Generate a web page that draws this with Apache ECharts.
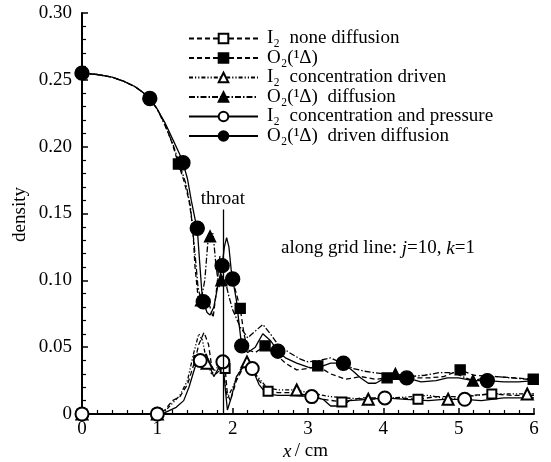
<!DOCTYPE html>
<html><head><meta charset="utf-8">
<script src="https://cdn.jsdelivr.net/npm/echarts@6/dist/echarts.min.js"></script>
<style>html,body{margin:0;padding:0;background:#fff}#c{width:551px;height:462px}</style>
</head><body><div id="c"></div>
<script>
// ---- data (x in cm, density) ----
const xTicks = [0,1,2,3,4,5,6];
const yTicks = [0,0.05,0.10,0.15,0.20,0.25,0.30];
const seriesNames = ['I\u2082  none diffusion','O\u2082(\u00b9\u0394)','I\u2082  concentration driven','O\u2082(\u00b9\u0394)  diffusion','I\u2082  concentration and pressure','O\u2082(\u00b9\u0394)  driven diffusion'];

const i2None = [[0,0],[0.5,0],[1.0,0],[1.1,0.003],[1.2,0.010],[1.3,0.013],[1.4,0.022],[1.5,0.040],[1.55,0.052],[1.62,0.061],[1.68,0.052],[1.72,0.036],[1.78,0.030],[1.85,0.034],[1.9,0.034],[1.93,0.015],[1.97,0.010],[2.05,0.025],[2.15,0.036],[2.25,0.035],[2.35,0.025],[2.47,0.017],[2.6,0.016],[2.8,0.016],[3.0,0.014],[3.2,0.011],[3.45,0.009],[3.7,0.012],[4.0,0.012],[4.2,0.012],[4.46,0.011],[4.7,0.013],[5.0,0.013],[5.2,0.014],[5.44,0.015],[5.7,0.014],[6.0,0.014]];
const o2None = [[0,0.255],[0.2,0.254],[0.4,0.252],[0.55,0.249],[0.7,0.245],[0.8,0.241],[0.9,0.236],[1.0,0.228],[1.1,0.217],[1.2,0.202],[1.28,0.187],[1.35,0.175],[1.42,0.160],[1.47,0.140],[1.5,0.110],[1.54,0.088],[1.6,0.080],[1.66,0.085],[1.7,0.080],[1.74,0.072],[1.78,0.090],[1.83,0.118],[1.88,0.115],[1.94,0.105],[2.0,0.099],[2.05,0.090],[2.10,0.079],[2.15,0.060],[2.2,0.048],[2.3,0.046],[2.43,0.051],[2.55,0.046],[2.7,0.038],[2.85,0.033],[3.0,0.034],[3.13,0.036],[3.3,0.030],[3.5,0.026],[3.7,0.028],[3.9,0.026],[4.05,0.027],[4.3,0.027],[4.6,0.027],[4.8,0.028],[5.02,0.033],[5.2,0.029],[5.5,0.028],[5.75,0.027],[6.0,0.026]];
const i2Conc = [[0,0],[0.5,0],[1.0,0],[1.1,0.002],[1.2,0.008],[1.3,0.014],[1.4,0.025],[1.48,0.045],[1.55,0.060],[1.6,0.055],[1.66,0.038],[1.72,0.030],[1.8,0.035],[1.88,0.030],[1.93,0.012],[2.0,0.020],[2.1,0.033],[2.19,0.039],[2.3,0.030],[2.45,0.020],[2.6,0.018],[2.85,0.018],[3.0,0.016],[3.3,0.013],[3.5,0.012],[3.8,0.011],[4.1,0.012],[4.4,0.013],[4.6,0.014],[4.86,0.011],[5.1,0.013],[5.4,0.015],[5.7,0.015],[5.91,0.015],[6.0,0.015]];
const o2Conc = [[0,0.255],[0.2,0.254],[0.4,0.252],[0.55,0.249],[0.7,0.245],[0.8,0.241],[0.9,0.236],[1.0,0.228],[1.1,0.216],[1.2,0.203],[1.3,0.186],[1.38,0.172],[1.44,0.155],[1.5,0.120],[1.54,0.095],[1.58,0.085],[1.63,0.100],[1.67,0.128],[1.70,0.133],[1.74,0.135],[1.78,0.110],[1.82,0.095],[1.85,0.100],[1.9,0.100],[1.95,0.088],[2.0,0.078],[2.1,0.065],[2.2,0.057],[2.3,0.062],[2.4,0.067],[2.5,0.060],[2.6,0.052],[2.75,0.046],[2.9,0.041],[3.0,0.039],[3.15,0.040],[3.3,0.042],[3.45,0.038],[3.6,0.034],[3.75,0.032],[3.87,0.031],[4.0,0.030],[4.16,0.030],[4.35,0.028],[4.55,0.029],[4.75,0.031],[4.93,0.031],[5.05,0.028],[5.19,0.025],[5.35,0.027],[5.5,0.028],[5.7,0.027],[5.91,0.026],[6.0,0.025]];
const i2Cp = [[0,0],[0.5,0],[1.0,0],[1.1,0.001],[1.25,0.005],[1.35,0.010],[1.42,0.020],[1.5,0.035],[1.57,0.040],[1.65,0.045],[1.7,0.035],[1.75,0.028],[1.8,0.033],[1.87,0.039],[1.9,0.020],[1.93,0.003],[1.98,0.012],[2.05,0.028],[2.15,0.036],[2.26,0.034],[2.35,0.022],[2.45,0.015],[2.6,0.014],[2.8,0.014],[3.05,0.013],[3.2,0.011],[3.3,0.006],[3.45,0.006],[3.55,0.010],[3.8,0.011],[4.02,0.012],[4.3,0.011],[4.6,0.010],[4.8,0.011],[5.08,0.011],[5.3,0.010],[5.6,0.012],[5.8,0.012],[6.0,0.012]];
const o2Cp = [[0,0.255],[0.2,0.254],[0.4,0.252],[0.55,0.249],[0.7,0.245],[0.8,0.241],[0.9,0.236],[1.0,0.228],[1.1,0.218],[1.2,0.206],[1.3,0.194],[1.34,0.188],[1.4,0.176],[1.45,0.160],[1.5,0.146],[1.53,0.139],[1.56,0.115],[1.59,0.092],[1.61,0.084],[1.66,0.076],[1.7,0.074],[1.75,0.080],[1.8,0.095],[1.86,0.111],[1.89,0.125],[1.92,0.132],[1.95,0.125],[1.98,0.108],[2.0,0.101],[2.05,0.085],[2.09,0.065],[2.12,0.051],[2.2,0.046],[2.3,0.050],[2.4,0.060],[2.5,0.055],[2.6,0.047],[2.7,0.042],[2.85,0.038],[3.0,0.035],[3.1,0.034],[3.2,0.036],[3.3,0.038],[3.47,0.038],[3.6,0.032],[3.7,0.027],[3.8,0.023],[3.9,0.023],[4.05,0.028],[4.2,0.028],[4.31,0.027],[4.5,0.024],[4.7,0.025],[4.85,0.027],[5.0,0.027],[5.19,0.025],[5.38,0.025],[5.6,0.024],[5.8,0.024],[6.0,0.025]];

const mkI2None = [[0,0],[1.0,0],[1.55,0.040],[1.9,0.034],[2.47,0.017],[3.45,0.009],[4.46,0.011],[5.44,0.015]];
const mkO2None = [[1.28,0.187],[2.10,0.079],[2.43,0.051],[3.13,0.036],[4.05,0.027],[5.02,0.033],[5.99,0.026]];
const mkI2Conc = [[0,0],[1.0,0],[1.66,0.038],[2.19,0.039],[2.85,0.018],[3.8,0.011],[4.86,0.011],[5.91,0.015]];
const mkO2Conc = [[1.58,0.085],[1.70,0.133],[1.85,0.100],[4.16,0.030],[5.19,0.025]];
const mkI2Cp = [[0,0],[1.0,0],[1.57,0.040],[1.87,0.039],[2.26,0.034],[3.05,0.013],[4.02,0.012],[5.08,0.011]];
const mkO2Cp = [[0,0.255],[0.9,0.236],[1.34,0.188],[1.53,0.139],[1.61,0.084],[1.86,0.111],[2.0,0.101],[2.12,0.051],[2.6,0.047],[3.47,0.038],[4.31,0.027],[5.38,0.025]];

const throatX = 1.87, throatTop = 0.153;

// ---- chart ----
const FONT = "'Liberation Serif','Times New Roman',serif";
const FS = 19;
const dash = [5,3], dashDot = [6,2,1.5,2], dashDotDot = [4,2,1.2,2,1.2,2];
const defs = [
  {d:i2None, mk:mkI2None, type:dash, sym:'emptyRect', size:9},
  {d:o2None, mk:mkO2None, type:dash, sym:'rect', size:10},
  {d:i2Conc, mk:mkI2Conc, type:dashDotDot, sym:'emptyTriangle', size:11},
  {d:o2Conc, mk:mkO2Conc, type:dashDot, sym:'triangle', size:11},
  {d:i2Cp, mk:mkI2Cp, type:'solid', sym:'emptyCircle', size:13},
  {d:o2Cp, mk:mkO2Cp, type:'solid', sym:'circle', size:14}
];
const series = [];
defs.forEach((s,i)=>{
  series.push({name:seriesNames[i], type:'line', data:s.d, symbol:s.sym, symbolSize:s.size, showSymbol:false,
    lineStyle:{color:'#000', width:1.3, type:s.type}, itemStyle:{color:'#000', borderColor:'#000', borderWidth:1.3},
    z:2, silent:true, animation:false});
  series.push({name:'mk'+i, type:'scatter', data:s.mk, symbol:s.sym, symbolSize:s.size,
    itemStyle:{color:'#000', borderColor:'#000', borderWidth:1.4, opacity:1}, z:3, silent:true, animation:false});
});
series.push({type:'line', data:[], animation:false, silent:true,
  markLine:{silent:true, symbol:['none','none'], animation:false,
    lineStyle:{color:'#000', width:1.3, type:'solid'},
    label:{show:true, position:'end', formatter:'throat', color:'#000', fontFamily:FONT, fontSize:FS, distance:1},
    data:[[{coord:[throatX,0]},{coord:[throatX,throatTop]}]]}});

const chart = echarts.init(document.getElementById('c'), null, {renderer:'canvas'});
chart.setOption({
  backgroundColor:'#fff',
  animation:false,
  grid:{left:82, right:17, top:13, bottom:48},
  xAxis:{type:'value', min:xTicks[0], max:xTicks[xTicks.length-1], interval:1,
    axisLine:{show:true, lineStyle:{color:'#000', width:2}},
    axisTick:{show:true, inside:true, length:6, lineStyle:{color:'#000', width:1.5}},
    minorTick:{show:true, splitNumber:5, length:4, lineStyle:{color:'#000', width:1.2}},
    splitLine:{show:false},
    axisLabel:{color:'#000', fontFamily:FONT, fontSize:FS, margin:6}},
  yAxis:{type:'value', min:yTicks[0], max:yTicks[yTicks.length-1], interval:0.05,
    axisLine:{show:true, lineStyle:{color:'#000', width:2}},
    axisTick:{show:true, inside:true, length:6, lineStyle:{color:'#000', width:1.5}},
    minorTick:{show:true, splitNumber:5, length:4, lineStyle:{color:'#000', width:1.2}},
    splitLine:{show:false},
    axisLabel:{color:'#000', fontFamily:FONT, fontSize:FS, margin:10,
      formatter:v=> v===0 ? '0' : v.toFixed(2)}},
  legend:{orient:'vertical', left:183, top:24, itemWidth:69, itemHeight:12, itemGap:0.5,
    data:seriesNames, selectedMode:false,
    textStyle:{color:'#000', fontFamily:FONT, fontSize:FS, lineHeight:19, padding:[0,0,0,4]}},
  graphic:[
    {type:'text', left:11, top:187, rotation:Math.PI/2, silent:true,
      style:{text:'density', fill:'#000', font:FS+'px '+FONT}},
    {type:'text', left:283, top:442, silent:true,
      style:{rich:{i:{fontStyle:'italic', fontFamily:FONT, fontSize:FS, fill:'#000'}, n:{fontFamily:FONT, fontSize:FS, fill:'#000'}},
        text:'{i|x} {n|/ cm}'}},
    {type:'text', left:281, top:239, silent:true,
      style:{rich:{i:{fontStyle:'italic', fontFamily:FONT, fontSize:FS, fill:'#000'}, n:{fontFamily:FONT, fontSize:FS, fill:'#000'}},
        text:'{n|along grid line: }{i|j}{n|=10, }{i|k}{n|=1}'}}
  ],
  series:series
});
</script></body></html>
